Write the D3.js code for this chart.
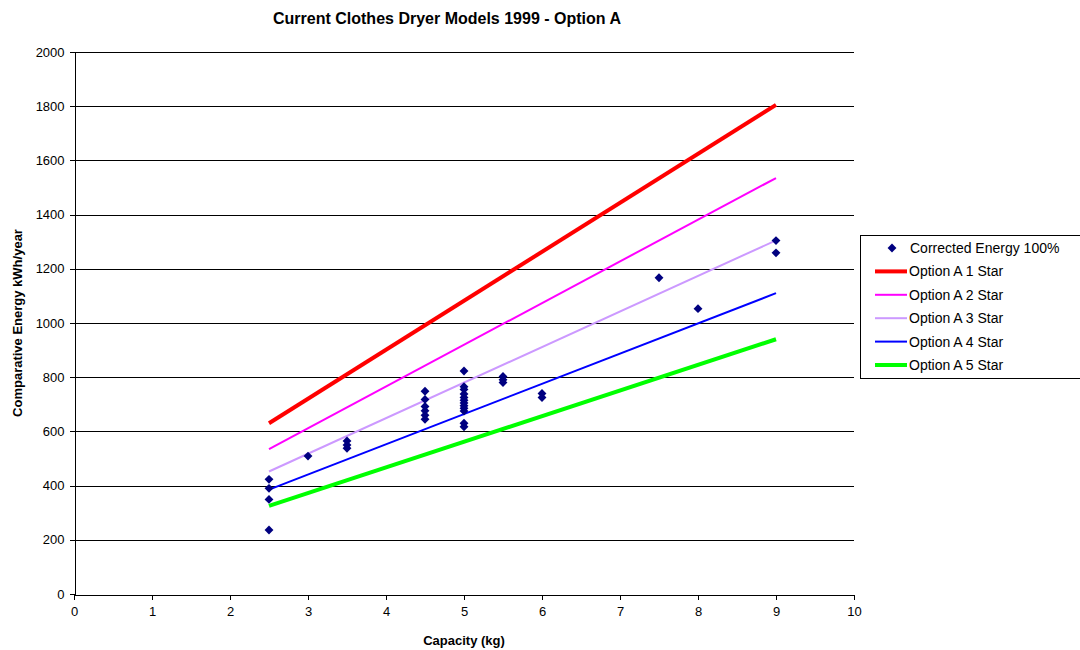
<!DOCTYPE html>
<html>
<head>
<meta charset="utf-8">
<script src="https://cdn.jsdelivr.net/npm/d3@7"></script>
<style>
  body { margin: 0; background: #fff; }
  svg { font-family: "Liberation Sans", Arial, sans-serif; }
</style>
</head>
<body>
<svg id="chart" width="1080" height="650"></svg>
<script>
// ---- Data ----
const scatterCapacity = [2.5, 2.5, 2.5, 2.5, 3, 3.5, 3.5, 3.5,
  4.5, 4.5, 4.5, 4.5, 4.5, 4.5,
  5, 5, 5, 5, 5, 5, 5, 5, 5, 5, 5, 5,
  5.5, 5.5, 5.5, 6, 6, 7.5, 8, 9, 9];
const scatterEnergy = [423, 390, 349, 236, 509, 565, 550, 538,
  748, 718, 692, 676, 660, 645,
  823, 765, 755, 738, 725, 715, 705, 695, 685, 675, 630, 617,
  803, 791, 780, 740, 725, 1167, 1053, 1304, 1259];

const lineCapacity = [2.5, 9];
const star1 = [630, 1805];
const star2 = [535, 1535];
const star3 = [452, 1305];
const star4 = [385, 1110];
const star5 = [325, 940];

const seriesNames = ["Option A 1 Star", "Option A 2 Star", "Option A 3 Star", "Option A 4 Star", "Option A 5 Star"];
const seriesValues = [star1, star2, star3, star4, star5];
const seriesColors = ["#FF0000", "#FF00FF", "#CC99FF", "#0000FF", "#00FF00"];
const seriesWidths = [4, 2, 2, 2, 4];

const xTicks = [0, 1, 2, 3, 4, 5, 6, 7, 8, 9, 10];
const yTicks = [0, 200, 400, 600, 800, 1000, 1200, 1400, 1600, 1800, 2000];

// ---- Chart ----
const svg = d3.select("#chart");
const x = d3.scaleLinear().domain([0, 10]).range([74, 854]);
const y = d3.scaleLinear().domain([0, 2000]).range([594, 52]);

// gridlines
svg.append("g").selectAll("line").data(yTicks.filter(d => d > 0)).join("line")
  .attr("x1", x(0)).attr("x2", x(10))
  .attr("y1", d => Math.round(y(d)) + 0.5).attr("y2", d => Math.round(y(d)) + 0.5)
  .attr("stroke", "#000").attr("stroke-width", 1).attr("shape-rendering", "crispEdges");

// axes
const xAxis = svg.append("g").attr("transform", `translate(0,${594.5})`)
  .call(d3.axisBottom(x).tickValues(xTicks).tickSize(5).tickSizeOuter(0).tickFormat(d3.format("d")));
const yAxis = svg.append("g").attr("transform", `translate(${74.5},0)`)
  .call(d3.axisLeft(y).tickValues(yTicks).tickSize(5).tickSizeOuter(0).tickFormat(d3.format("d")));
[xAxis, yAxis].forEach(a => {
  a.selectAll("path, line").attr("stroke", "#000").attr("shape-rendering", "crispEdges");
  a.selectAll("text").attr("font-size", 13).attr("fill", "#000")
   .attr("font-family", "'Liberation Sans', Arial, sans-serif");
});
xAxis.selectAll("text").attr("dy", "1.05em");
yAxis.selectAll("text").attr("dx", "-0.15em");

// lines
const lineGen = d3.line().x(d => x(d[0])).y(d => y(d[1]));
seriesValues.forEach((vals, i) => {
  svg.append("path")
    .datum(lineCapacity.map((c, j) => [c, vals[j]]))
    .attr("d", lineGen)
    .attr("fill", "none")
    .attr("stroke", seriesColors[i])
    .attr("stroke-width", seriesWidths[i]);
});

// scatter
const diamond = d3.symbol().type(d3.symbolDiamond2).size(50);
svg.append("g").selectAll("path").data(scatterCapacity.map((c, i) => [c, scatterEnergy[i]])).join("path")
  .attr("d", diamond)
  .attr("transform", d => `translate(${x(d[0])},${y(d[1])})`)
  .attr("fill", "#000080");

// title
svg.append("text").attr("x", 447).attr("y", 24).attr("text-anchor", "middle")
  .attr("font-size", 16).attr("font-weight", "bold").text("Current Clothes Dryer Models 1999 - Option A");

// axis titles
svg.append("text").attr("x", 464).attr("y", 645).attr("text-anchor", "middle")
  .attr("font-size", 13).attr("font-weight", "bold").text("Capacity (kg)");
svg.append("text").attr("transform", "translate(22,323) rotate(-90)").attr("text-anchor", "middle")
  .attr("font-size", 13).attr("font-weight", "bold").text("Comparative Energy kWh/year");

// legend
const lg = svg.append("g");
lg.append("rect").attr("x", 860.5).attr("y", 235.5).attr("width", 222).attr("height", 143)
  .attr("fill", "#fff").attr("stroke", "#000").attr("stroke-width", 1);
const legendRows = 23.4;
const ly0 = 248;
lg.append("path").attr("d", diamond).attr("transform", `translate(892,${ly0})`).attr("fill", "#000080");
lg.append("text").attr("x", 910).attr("y", ly0 + 5).attr("font-size", 14).text("Corrected Energy 100%");
seriesNames.forEach((name, i) => {
  const yy = ly0 + legendRows * (i + 1);
  lg.append("line").attr("x1", 875).attr("x2", 907).attr("y1", yy).attr("y2", yy)
    .attr("stroke", seriesColors[i]).attr("stroke-width", seriesWidths[i]);
  lg.append("text").attr("x", 909).attr("y", yy + 5).attr("font-size", 14).text(name);
});
</script>
</body>
</html>
